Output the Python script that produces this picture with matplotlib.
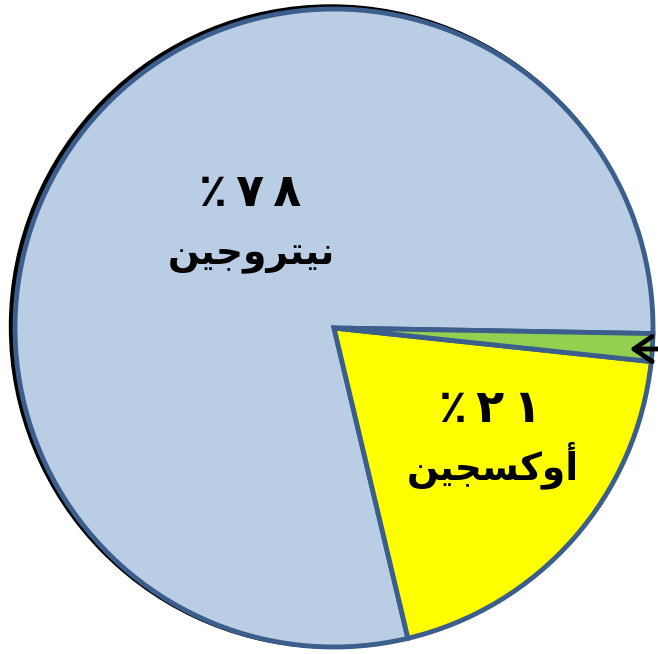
import matplotlib
matplotlib.use("Agg")
import matplotlib.pyplot as plt
from matplotlib.patches import Circle

# slice sizes as drawn (degrees, converted to %)
gases = ["nitrogen", "oxygen", "other"]
shares = [79.0, 19.6, 1.4]
fills = ["#B9CDE5", "#FFFF00", "#92D050"]

# labels, already shaped for display (presentation forms, visual order)
pct_labels = ["\u066a\u2009\u0667\u2009\u0668", "\u066a\u2009\u0662\u2009\u0661"]
name_labels = [
    "\ufee6\ufef4\ufe9f\ufeed\ufeae\ufe98\ufef4\ufee7",  # نيتروجين
    "\ufee6\ufef4\ufea0\ufeb4\ufedb\ufeed\ufe83",  # أوكسجين
]

W, H = 658, 654


def py(y):
    # pixel row (from top) -> data y
    return H - y


fig = plt.figure(figsize=(W / 100, H / 100), dpi=100)
ax = fig.add_axes([0, 0, 1, 1])

cx, cy, r = 334, py(328), 319

# dark shadow peeking out on the upper left
ax.add_patch(Circle((cx - 3, cy + 1.5), r + 2.5, color="black", zorder=1))

ax.pie(shares, colors=fills, startangle=-1, counterclock=True,
       center=(cx, cy), radius=r, frame=True,
       wedgeprops=dict(edgecolor="#3B5E8C", linewidth=3.5, zorder=2))
ax.set_xlim(0, W)
ax.set_ylim(0, H)
ax.set_aspect("equal")
ax.axis("off")

font = dict(family=["DejaVu Sans"], fontweight="bold", color="black",
            ha="center", va="center", zorder=5)
ax.text(250, py(194), pct_labels[0], fontsize=33, **font)
ax.text(251, py(256), name_labels[0], fontsize=27, **font)
ax.text(490, py(409), pct_labels[1], fontsize=33, **font)
ax.text(493, py(465), name_labels[1], fontsize=27, **font)

# arrow pointing at the thin green slice
ax.annotate("", xy=(627, py(349)), xytext=(690, py(349)),
            arrowprops=dict(arrowstyle="->,head_length=1.3,head_width=0.9",
                            color="black", lw=3.5),
            annotation_clip=False, zorder=6)

fig.savefig("out.png", dpi=100)
